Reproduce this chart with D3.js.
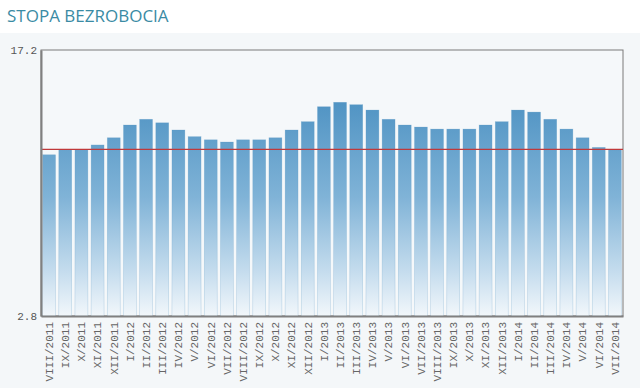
<!DOCTYPE html>
<html><head><meta charset="utf-8">
<script src="https://cdn.jsdelivr.net/npm/d3@7"></script>
<style>
html,body{margin:0;padding:0;background:#f4f7f9;}
svg{display:block;}
</style></head>
<body>
<svg id="chart" width="640" height="388"></svg>
<script>
const categories = ["VIII/2011","IX/2011","X/2011","XI/2011","XII/2011","I/2012","II/2012","III/2012","IV/2012","V/2012","VI/2012","VII/2012","VIII/2012","IX/2012","X/2012","XI/2012","XII/2012","I/2013","II/2013","III/2013","IV/2013","V/2013","VI/2013","VII/2013","VIII/2013","IX/2013","X/2013","XI/2013","XII/2013","I/2014","II/2014","III/2014","IV/2014","V/2014","VI/2014","VII/2014"];
const values = [11.53,11.82,11.82,12.06,12.45,13.14,13.45,13.26,12.87,12.51,12.34,12.22,12.34,12.34,12.45,12.87,13.32,14.13,14.37,14.24,13.95,13.45,13.14,13.03,12.92,12.92,12.92,13.14,13.32,13.95,13.84,13.45,12.92,12.45,11.93,11.80];
const referenceValue = [11.82];
const yTicks = [2.8, 17.2];
const title = "STOPA BEZROBOCIA";

const svg = d3.select("#chart");
const m = {left:41, right:17, top:50, bottom:72};
const W = 640, H = 388;
const x = d3.scaleBand().domain(categories).range([m.left, W - m.right]).paddingInner(0.2).paddingOuter(0.1);
const y = d3.scaleLinear().domain([2.8, 17.2]).range([H - m.bottom, m.top]);

// title band
svg.append("rect").attr("x",0).attr("y",0).attr("width",W).attr("height",33).attr("fill","#ffffff");
svg.append("text").attr("x",7).attr("y",22).text(title)
  .attr("font-family","'Open Sans', sans-serif").attr("font-size",17).attr("fill","#3a8ba4");

const defs = svg.append("defs");
const g = defs.append("linearGradient").attr("id","barGrad").attr("gradientUnits","userSpaceOnUse")
  .attr("x1",0).attr("x2",0).attr("y1",y(14.5)).attr("y2",y(2.8));
g.append("stop").attr("offset","0%").attr("stop-color","#4f93c3");
g.append("stop").attr("offset","45%").attr("stop-color","#80b3d7");
g.append("stop").attr("offset","80%").attr("stop-color","#c6ddee");
g.append("stop").attr("offset","100%").attr("stop-color","#f2f7fb");

// plot background
svg.append("rect").attr("x",m.left).attr("y",m.top).attr("width",W-m.left-m.right).attr("height",H-m.top-m.bottom)
  .attr("fill","#f5f8fa").attr("stroke","#7a7a7a").attr("stroke-width",1);

svg.append("g").selectAll("rect").data(values).join("rect")
  .attr("x",(d,i)=>x(categories[i]))
  .attr("width",x.bandwidth())
  .attr("y",d=>y(d))
  .attr("height",d=>y(2.8)-y(d))
  .attr("fill","url(#barGrad)")
  .attr("stroke","#5d98c2").attr("stroke-opacity",0.35).attr("stroke-width",0.6);

// reference line
svg.append("g").selectAll("line").data(referenceValue).join("line")
  .attr("x1",m.left).attr("x2",W-m.right).attr("y1",d=>y(d)).attr("y2",d=>y(d))
  .attr("stroke","#c0393b").attr("stroke-width",1.3);

// axes
const yAxis = svg.append("g").attr("transform",`translate(${m.left},0)`)
  .call(d3.axisLeft(y).tickValues(yTicks).tickSize(0).tickPadding(4).tickFormat(d3.format(".1f")));
yAxis.select(".domain").attr("stroke","#808080").attr("stroke-width",2);
yAxis.selectAll("text").attr("font-family","'Liberation Mono', monospace").attr("font-size",11).attr("fill","#555");

const xAxis = svg.append("g").attr("transform",`translate(0,${H-m.bottom})`)
  .call(d3.axisBottom(x).tickSize(0).tickPadding(0));
xAxis.select(".domain").attr("stroke","#808080").attr("stroke-width",2);
xAxis.selectAll("text")
  .attr("font-family","'Liberation Mono', monospace").attr("font-size",11).attr("fill","#666")
  .attr("transform","rotate(-90)").attr("text-anchor","end")
  .attr("x",-6).attr("y",0).attr("dy","0.35em");
svg.selectAll(".domain").attr("fill","none");
</script>
</body></html>
